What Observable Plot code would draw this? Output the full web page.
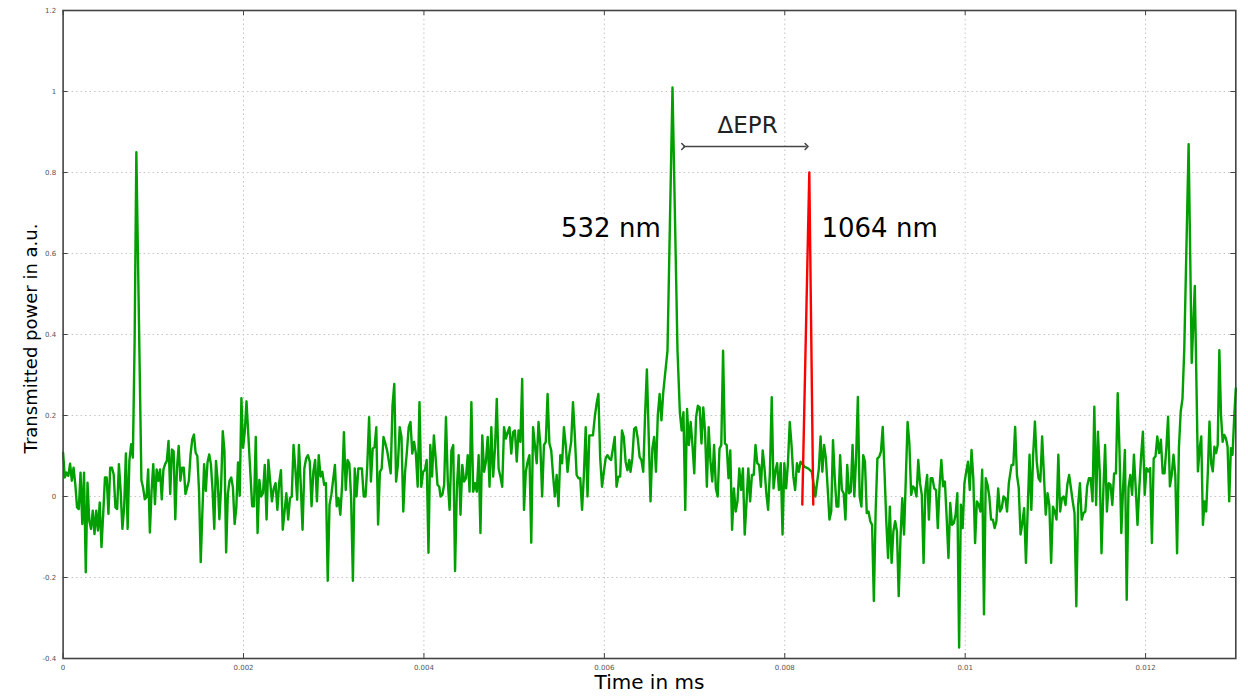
<!DOCTYPE html>
<html>
<head>
<meta charset="utf-8">
<script src="https://cdn.jsdelivr.net/npm/d3@7"></script>
<script src="https://cdn.jsdelivr.net/npm/@observablehq/plot@0.6"></script>
<style>
  html, body { margin: 0; padding: 0; background: #fff; }
  #chart svg { display: block; font-family: "DejaVu Sans", sans-serif; }
</style>
</head>
<body>
<div id="chart"></div>
<script>
// ---- Axis ticks ----
const xTickValues = [0, 0.002, 0.004, 0.006, 0.008, 0.010, 0.012];
const xTickLabels = ["0", "0.002", "0.004", "0.006", "0.008", "0.01", "0.012"];
const yTickValues = [-0.4, -0.2, 0, 0.2, 0.4, 0.6, 0.8, 1, 1.2];
const yTickLabels = ["-0.4", "-0.2", "0", "0.2", "0.4", "0.6", "0.8", "1", "1.2"];

// ---- Green trace (532 nm), read in consecutive segments: [tStart, tEnd] in ms ----
const segA_t = [0, 0.000812];
const segA = [0.108,0.047,0.059,0.051,0.081,0.039,0.071,0.030,-0.027,-0.031,
  0.059,-0.068,0.059,-0.187,0.034,-0.060,-0.080,-0.035,-0.093,-0.035,
  -0.084,-0.015,-0.125,-0.043,0.047,0.047,-0.043,0.071,0.071,0.055,
  -0.027,-0.031,0.080,0.014,-0.080,-0.027,0.106,-0.080,0.088,0.129,
  0.096,0.38,0.85];
const segB_t = [0.000868, 0.002033];
const segB = [0.04,0.022,-0.007,-0.002,0.067,-0.089,0.014,0.080,-0.019,0.067,0.039,
  0.067,-0.007,0.067,0.080,0.088,0.137,0.006,0.116,0.112,-0.056,
  0.071,0.125,0.039,0.071,0.071,0.006,0.022,0.039,0.104,0.141,
  0.153,0.108,0.100,0.014,-0.162,-0.035,0.080,0.014,0.084,0.104,
  0.080,0.014,-0.080,0.088,0.039,-0.056,0.022,0.161,0.112,-0.138,
  0.006,0.039,0.047,0.022,-0.068,-0.027,0.084,0.002,0.243,0.120,
  0.161,0.235];
const segC_t = [0.002096, 0.004170];
const segC = [-0.024,-0.024,0.147,-0.090,0.041,0,0.008,0.078,-0.057,0.090,
  0.037,-0.012,0.020,0.033,-0.033,0.033,0.065,-0.082,-0.037,0.008,
  -0.057,-0.004,0,0.127,0.069,-0.008,0.127,0.029,-0.082,0.069,
  0.094,0.102,0.086,-0.024,0.061,0.090,-0.012,0.102,0.049,0.061,
  0.029,0.033,-0.208,-0.020,0.004,0.041,0.078,-0.024,-0.004,-0.045,
  0.029,0.159,0.016,0.090,0.082,-0.004,-0.208,0.069,0,0.069,
  0.069,0.069,0,0,0.078,0.196,0.037,0.118,0.122,0.171,
  -0.069,0.061,0.069,0.147,0.131,0.114,0.086,0.057,0.224,0.278,
  0.037,0.078,0.171,0.147,-0.037,0.061,0.110,0.171,0.184,0.106,
  0.135,0.106,0.024,0.233,0.024,0.061,0.065,0.090,-0.139,0.127,
  0.049,0.151,0.094,0.029,0.024];
const segD_t = [0.004184, 0.006276];
const segD = [0,0.004,0.029,0.196,0.037,-0.033,0.114,0.127,-0.184,0.020,
  0.102,-0.045,0.078,0.037,0.045,0.102,0.012,0.233,0.012,0.033,
  0.012,0.102,-0.090,0.151,0.061,0.086,0.147,0.024,0.171,0.049,
  0.118,0.241,0.069,0.049,0.024,0.171,0.143,0.159,0.171,0.106,
  0.159,0.163,0.086,0.163,0.135,0.290,-0.033,0.061,0.086,0.102,
  -0.114,0.171,0.127,0.082,0.184,0.127,0,0.127,0.135,0.253,
  0.131,0.114,0.053,0,0.053,-0.024,0.102,0.082,0.171,0.127,
  0.061,0.106,0.135,0.233,0.151,0.053,0.045,0.045,-0.033,0.053,
  0.171,0,0.151,0.151,0.151,0.196,0.229,0.253,0.094,0.024,
  0.061,0.094,0.102,0.094,0.090,0.118,0.147,0.024,0.049,0.049,
  0.163,0.147,0.086,0.065,0.090];
const segE1_t = [0.006290, 0.006653];
const segE1 = [0.061,0.094,0.167,0.171,0.143,0.098,0.090,0.061,0.200,0.314,
  0.151,-0.012,0.118,0.147,0.061,0.200,0.253,0.188,0.257];
const segPeak1_t = [0.006700, 0.006811];
const segPeak1 = [0.36, 1.01, 0.36];
const segE2_t = [0.006837, 0.008175];
const segE2 = [0.208,0.163,0.208,-0.033,0.216,0.127,0.184,0.127,0.057,0.196,
  0.224,0.220,0.131,0.220,0.159,0.024,0.171,0.086,0.037,0.127,
  0.020,0,0.118,0.127,0.36,0.131,0.127,0.045,0.114,-0.082,
  0.020,-0.037,-0.012,0.069,0.016,0.069,-0.094,-0.016,0.069,-0.012,
  0.053,0.053,0.127,0.082,0.078,0.024,0.114,0.069,0.008,-0.033,
  0.061,0.245,0.020,0.061,0.082,0.016,0.082,-0.094,0.082,0.020,
  0.082,0.184,0.127,0.049,0.016,0.082,0.061,0.086];
const segE3_t = [0.008223, 0.008378];
const segE3 = [0.073,0.069,0.061,0,0.069];
const segF_t = [0.008397, 0.010484];
const segF = [0.148,0.061,0.127,0.094,0.020,-0.057,-0.037,0.139,0.045,-0.025,
  -0.025,0.102,0.016,0.008,-0.057,0.078,0.008,0.012,0.127,0,
  0.094,0.246,0,-0.025,0.102,0.086,-0.041,-0.037,-0.061,-0.070,
  -0.258,-0.037,0.094,0.098,0.111,0.172,0.061,-0.061,-0.152,-0.025,
  -0.164,-0.086,-0.061,-0.086,-0.246,-0.102,-0.004,-0.094,0.045,0.184,
  0.131,0.004,0.025,0.020,0,0.090,0.033,0.004,-0.164,0.016,
  0.053,-0.057,0.045,0.045,0.020,0.016,-0.078,0.025,0.090,0.025,
  0.037,-0.053,-0.152,-0.016,-0.070,-0.066,-0.045,0.008,-0.373,-0.020,
  -0.078,0.033,0.061,0.086,0.016,0.115,0.045,-0.115,-0.012,-0.020,
  -0.037,0.066,-0.291,0.045,0.029,0,-0.057,-0.057,-0.078,-0.061,
  0.020,-0.037,-0.029,0,-0.004,-0.037,0.033];
const segG1_t = [0.010514, 0.012429];
const segG1 = [0.078,0.078,0.172,0.053,0.021,-0.094,-0.066,-0.029,-0.164,-0.029,
  0.103,-0.033,0.103,0.185,0.086,0.045,0.037,0.148,0.053,-0.045,
  0.008,-0.021,-0.164,-0.025,-0.037,-0.057,0.103,-0.037,-0.004,0,
  -0.021,0.029,0.053,0.021,-0.012,-0.041,-0.271,-0.021,0.033,-0.057,
  -0.041,-0.037,0.025,0.045,0.045,-0.012,0.222,-0.021,0.160,0.062,
  -0.140,0.012,0.127,-0.037,0.033,0.029,-0.021,0.057,0.057,0.255,
  0.111,-0.090,0.021,0.115,-0.255,0.021,0.053,0.004,0.103,0.021,
  -0.070,0.021,0.099,0.160,0.004,0.070,0.062,0.070,-0.115,0.094,
  0.099,0.148,0.107,0.140,0.057,0.057,0.119,0.197,0.025,0.053,
  0.103,0.053,-0.140,0.119,0.209,0.242,0.365];
const segPeak2_t = [0.012477, 0.012580];
const segPeak2 = [0.87, 0.33, 0.52, 0.062];
const segG3_t = [0.012599, 0.013];
const segG3 = [0.119,0.148,-0.070,-0.012,-0.037,0.062,0.185,0.082,0.062,0.123,
  0.107,0.127,0.361,0.201,0.135,0.152,0.144,0.123,-0.012,0.119,
  0.103,0.193,0.267];

// ---- Red trace (1064 nm) ----
const redTimes = [0.008194, 0.008272, 0.008316];
const redValues = [-0.02, 0.80, -0.02];

// ---- Annotations ----
const labelText = ["532 nm", "1064 nm", "ΔEPR"];
const labelX = [0.006625, 0.008407, 0.007588];
const labelY = [0.661, 0.661, 0.916];
const arrowX = [0.006875, 0.008242];
const arrowY = 0.864;

// ---- Build table ----
const segments = [
  [segA_t, segA], [segB_t, segB], [segC_t, segC], [segD_t, segD],
  [segE1_t, segE1], [segPeak1_t, segPeak1], [segE2_t, segE2], [segE3_t, segE3],
  [segF_t, segF], [segG1_t, segG1], [segPeak2_t, segPeak2], [segG3_t, segG3]
];
const green = [];
for (const [[t0, t1], vals] of segments) {
  const n = vals.length;
  vals.forEach((v, i) => green.push({t: n > 1 ? t0 + (t1 - t0) * i / (n - 1) : t0, v}));
}
const red = redTimes.map((t, i) => ({t, v: redValues[i]}));
const labels = labelText.map((s, i) => ({s, x: labelX[i], y: labelY[i]}));

const W = 1248, H = 699;
const mL = 62.6, mR = 12.7, mT = 10, mB = 41;
const innerW = W - mL - mR, innerH = H - mT - mB;
const gridXV = xTickValues.filter(d => d > 0);
const gridYV = yTickValues.filter(d => d > -0.4 && d < 1.2);
const tick = 5;
const frameColor = "#444";

const chart = Plot.plot({
  width: W, height: H,
  marginLeft: mL, marginRight: mR, marginTop: mT, marginBottom: mB,
  x: {domain: [0, 0.013], axis: null},
  y: {domain: [-0.4, 1.2], axis: null},
  marks: [
    Plot.ruleX(gridXV, {x: d => d, stroke: "#c4c4c4", strokeDasharray: "1.5,3", strokeWidth: 1}),
    Plot.ruleY(gridYV, {y: d => d, stroke: "#c4c4c4", strokeDasharray: "1.5,3", strokeWidth: 1}),
    Plot.line(green, {x: "t", y: "v", stroke: "#00a000", strokeWidth: 2.4, strokeLinejoin: "round"}),
    Plot.line(red, {x: "t", y: "v", stroke: "#ff0000", strokeWidth: 2.4}),
    Plot.frame({stroke: frameColor, strokeWidth: 1.6}),
    Plot.tickX(xTickValues, {x: d => d, insetTop: innerH - tick, stroke: frameColor, strokeWidth: 1}),
    Plot.tickX(xTickValues, {x: d => d, insetBottom: innerH - tick, stroke: frameColor, strokeWidth: 1}),
    Plot.tickY(yTickValues, {y: d => d, insetRight: innerW - tick, stroke: frameColor, strokeWidth: 1}),
    Plot.tickY(yTickValues, {y: d => d, insetLeft: innerW - tick, stroke: frameColor, strokeWidth: 1}),
    Plot.text(xTickValues, {x: d => d, frameAnchor: "bottom", dy: 11, text: (d, i) => xTickLabels[i], fontSize: 7, fill: "#555"}),
    Plot.text(yTickValues, {y: d => d, frameAnchor: "left", dx: -7, textAnchor: "end", text: (d, i) => yTickLabels[i], fontSize: 7, fill: "#555"}),
    Plot.text(["Time in ms"], {frameAnchor: "bottom", dy: 30, fontSize: 20, fill: "#000"}),
    Plot.text(["Transmitted power in a.u."], {frameAnchor: "left", dx: -32, dy: 4, rotate: -90, textAnchor: "middle", fontSize: 18, fill: "#000"}),
    Plot.text(labels.slice(0, 1), {x: "x", y: "y", text: "s", textAnchor: "end", fontSize: 26, fill: "#000"}),
    Plot.text(labels.slice(1, 2), {x: "x", y: "y", text: "s", textAnchor: "start", fontSize: 26, fill: "#000"}),
    Plot.text(labels.slice(2, 3), {x: "x", y: "y", text: "s", textAnchor: "middle", fontSize: 23, fill: "#222"}),
    Plot.link([{x1: arrowX[0], x2: arrowX[1], y: arrowY}], {x1: "x1", x2: "x2", y1: "y", y2: "y", stroke: "#444", strokeWidth: 1.5, markerStart: "arrow", markerEnd: "arrow"})
  ]
});
document.getElementById("chart").appendChild(chart);
</script>
</body>
</html>
